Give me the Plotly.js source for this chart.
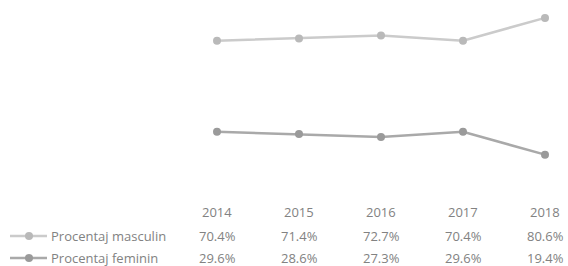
<!DOCTYPE html>
<html><head><meta charset="utf-8">
<script src="https://cdn.plot.ly/plotly-3.0.1.min.js"></script>
<style>html,body{margin:0;padding:0;background:#fff;}#chart{width:568px;height:266px;}</style>
</head><body><div id="chart"></div>
<script>
const years = ["2014", "2015", "2016", "2017", "2018"];
const seriesNames = ["Procentaj masculin", "Procentaj feminin"];
const masculin = [70.4, 71.4, 72.7, 70.4, 80.6];
const feminin = [29.6, 28.6, 27.3, 29.6, 19.4];

const lineColors = ["#cbcbcb", "#a9a9a9"];
const markerColors = ["#b9b9b9", "#9a9a9a"];
const textColor = "#828282";
const font = "Open Sans, Liberation Sans, sans-serif";

const W = 568, H = 266;
const plotLeft = 176, plotTop = 0, plotBottom = 198;
const plotW = W - plotLeft, plotH = plotBottom - plotTop;
const xIdx = years.map((_, i) => i);
// convert figure pixel -> paper coords (paper is relative to the plot area)
const px = p => (p - plotLeft) / plotW;
const py = p => (plotBottom - p) / plotH;

const traces = [masculin, feminin].map((vals, k) => ({
  x: xIdx, y: vals, type: "scatter", mode: "lines+markers",
  name: seriesNames[k],
  line: {color: lineColors[k], width: 2.5},
  marker: {color: markerColors[k], size: 8},
  hoverinfo: "skip", showlegend: false, cliponaxis: false
}));

const rowY = [236, 258];
const headerY = 212;
const annotations = [];
years.forEach((yr, i) => {
  annotations.push({xref: "x", yref: "paper", x: i, y: py(headerY), text: yr,
    showarrow: false, xanchor: "center", yanchor: "middle",
    font: {family: font, size: 13, color: textColor}});
});
[masculin, feminin].forEach((vals, k) => {
  annotations.push({xref: "paper", yref: "paper", x: px(49), y: py(rowY[k]),
    text: seriesNames[k], showarrow: false, xanchor: "left", yanchor: "middle",
    font: {family: font, size: 13, color: textColor}});
  vals.forEach((v, i) => {
    annotations.push({xref: "x", yref: "paper", x: i, y: py(rowY[k]),
      text: v.toFixed(1) + "%", showarrow: false, xanchor: "center", yanchor: "middle",
      font: {family: font, size: 13, color: textColor}});
  });
});

const shapes = [];
rowY.forEach((ry, k) => {
  shapes.push({type: "line", xref: "paper", yref: "paper", x0: px(10), x1: px(47), y0: py(ry), y1: py(ry),
    line: {color: lineColors[k], width: 2.5}});
  shapes.push({type: "circle", xref: "paper", yref: "paper",
    x0: px(25), x1: px(33), y0: py(ry + 4), y1: py(ry - 4),
    fillcolor: markerColors[k], line: {width: 0}});
});

// axis calibration: 2014 at px 217, spacing 82 px per category
const pxPerCat = 82, firstPx = 217;
const xr0 = (plotLeft - firstPx) / pxPerCat;
const xr1 = (W - firstPx) / pxPerCat;

const layout = {
  width: W, height: H,
  margin: {l: plotLeft, r: 0, t: plotTop, b: H - plotBottom, pad: 0},
  paper_bgcolor: "#ffffff", plot_bgcolor: "#ffffff",
  xaxis: {range: [xr0, xr1], showgrid: false, zeroline: false, showticklabels: false, showline: false, ticks: ""},
  yaxis: {range: [0, 88.6], showgrid: false, zeroline: false, showticklabels: false, showline: false, ticks: ""},
  annotations: annotations,
  shapes: shapes,
  showlegend: false
};

Plotly.newPlot("chart", traces, layout, {displayModeBar: false, staticPlot: true});
</script></body></html>
